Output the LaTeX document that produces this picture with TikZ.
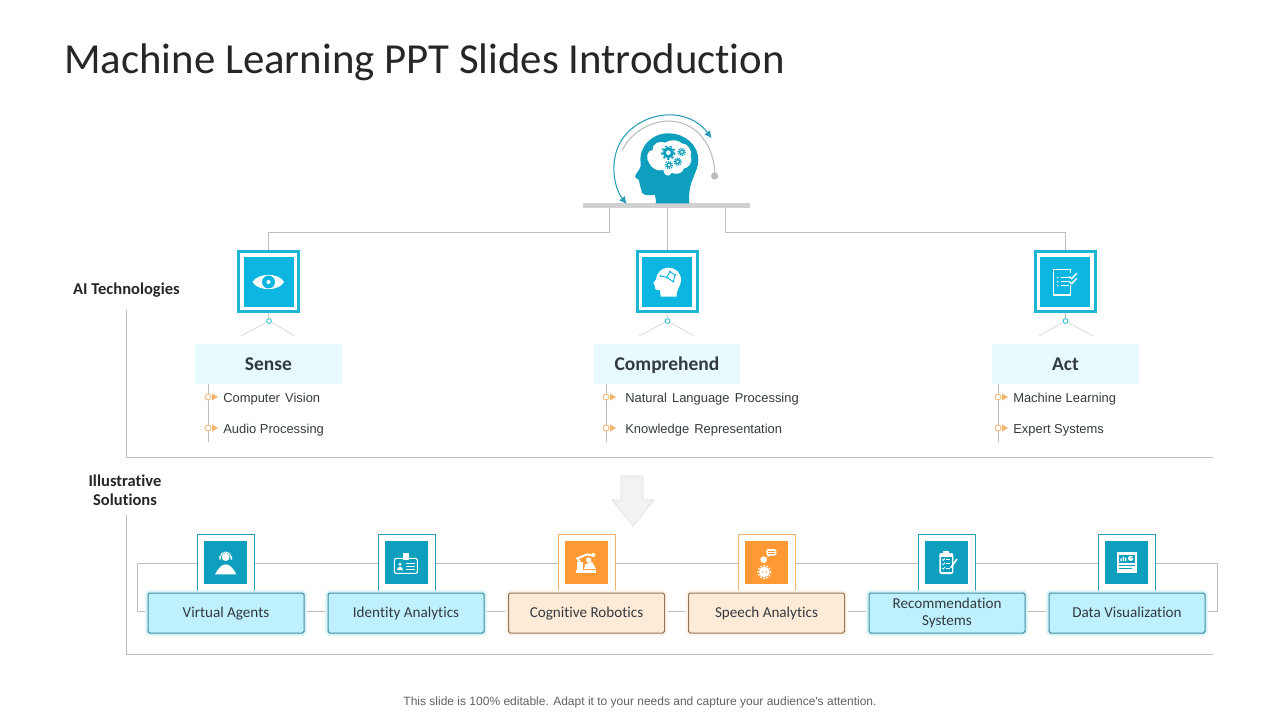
\documentclass[tikz,border=0pt]{standalone}
\usepackage{fontspec}
\setmainfont[Ligatures=NoCommon]{Carlito}
\newfontfamily\lib{Liberation Sans}
\usetikzlibrary{arrows.meta}
\definecolor{tealA}{HTML}{0E9FBF}
\definecolor{tealB}{HTML}{0CB6E0}
\definecolor{tealF}{HTML}{2A9DB8}
\definecolor{tealL}{HTML}{1CB6D4}
\definecolor{orangeA}{HTML}{FF9933}
\definecolor{orangeF}{HTML}{F2B36B}
\definecolor{lineG}{HTML}{BDBDBD}
\definecolor{ink}{HTML}{333A3F}
\definecolor{headFill}{HTML}{E8FAFE}
\definecolor{lblFill}{HTML}{BEF1FD}
\definecolor{lblLine}{HTML}{3F8C9F}
\definecolor{lblHalo}{HTML}{D8F3F8}
\definecolor{oFill}{HTML}{FDEBD8}
\definecolor{oLine}{HTML}{94755A}
\definecolor{oHalo}{HTML}{FDF3E8}
\tikzset{
  zm/.style 2 args={shift={(#1,#2)},x=.25pt,y=-.25pt},
  conn/.style={draw=lineG,line width=.75pt},
  outerbox/.style={draw=tealL,line width=2.25pt,fill=white,minimum size=45pt,inner sep=0pt},
  innerbox/.style={fill=tealB,minimum size=37.5pt,inner sep=0pt},
  head/.style={fill=#1,minimum width=110pt,minimum height=30pt,inner sep=0pt,text height=9.4pt,text depth=0pt,font=\fontsize{14.6pt}{15pt}\selectfont\bfseries,text=ink},
  listtxt/.style={anchor=west,inner sep=0pt,text height=7pt,text depth=0pt,font=\lib\fontsize{9.7pt}{12pt}\selectfont,text=ink},
  bul/.style={circle,draw=orangeF,fill=white,line width=.6pt,minimum size=4.5pt,inner sep=0pt},
  tri/.style={fill=orangeF},
  lead/.style={draw=black!15,line width=.6pt},
  dot/.style={circle,draw=tealL,fill=white,line width=.6pt,minimum size=3.6pt,inner sep=0pt},
  frameT/.style={draw=tealF,line width=.75pt,fill=white,minimum width=42.75pt,minimum height=44.25pt,inner sep=0pt},
  frameO/.style={draw=orangeF,line width=.75pt,fill=white,minimum width=42.75pt,minimum height=44.25pt,inner sep=0pt},
  sqT/.style={fill=tealA,minimum size=32.25pt,inner sep=0pt},
  sqO/.style={fill=orangeA,minimum size=32.25pt,inner sep=0pt},
  lblbase/.style={rounded corners=1.2pt,line width=.75pt,minimum width=117pt,minimum height=30pt,inner sep=0pt,align=center,text=ink,font=\fontsize{11.35pt}{12.7pt}\selectfont},
  lblT/.style={lblbase,draw=lblLine,fill=lblFill,preaction={draw=lblHalo,line width=4pt}},
  lblO/.style={lblbase,draw=oLine,fill=oFill,preaction={draw=oHalo,line width=4pt}},
  one/.style={text height=7.2pt,text depth=0pt},
  side/.style={align=center,inner sep=0pt,font=\fontsize{12.4pt}{14.4pt}\selectfont\bfseries,text=black!85},
}
\newcommand{\gearshape}[6]{% x y r hole colour dash
  \fill[#5] (#1,#2) circle (#3);
  \draw[#5,line width=1.1pt,dash pattern=on #6 off #6] (#1,#2) circle ({#3+2.5});
  \fill[white] (#1,#2) circle (#4);
}
\newcommand{\lsp}{\hspace{.12em}}
\begin{document}
\begin{tikzpicture}[x=.75pt,y=-.75pt]
\useasboundingbox (0,0) rectangle (1280,720);
\node[anchor=west,inner sep=0pt,text=black!85,font=\fontsize{32.1pt}{38pt}\selectfont] (title) at (64,62) {Machine Learning PPT Slides Introduction};

\node[fill=black!18,minimum width=125.25pt,minimum height=3.75pt,inner sep=0pt] (bar) at (666.5,205.5) {};
% head
\begin{scope}[zm={570}{100}]
  \fill[tealA] (258,310) .. controls (258,298) and (256,290) .. (254,284) .. controls (240,286) and (222,288) .. (216,278)
    .. controls (212,270) and (214,262) .. (210,256) .. controls (206,250) and (210,246) .. (207,240) .. controls (200,236) and (192,232) .. (197,224)
    .. controls (204,212) and (214,205) .. (212,190) .. controls (205,140) and (245,100) .. (295,100)
    .. controls (345,100) and (385,135) .. (385,180) .. controls (385,220) and (352,240) .. (358,310) -- cycle;
  \fill[white] (238,190) .. controls (225,175) and (232,150) .. (248,150) .. controls (245,132) and (270,120) .. (285,128)
    .. controls (300,118) and (325,118) .. (335,130) .. controls (352,130) and (368,150) .. (362,170)
    .. controls (370,190) and (352,205) .. (342,205) .. controls (338,222) and (315,225) .. (305,218)
    .. controls (298,235) and (280,225) .. (280,210) .. controls (262,215) and (245,205) .. (238,190) -- cycle;
  \gearshape{295}{158}{17}{7}{tealA}{1.7pt}
  \gearshape{335}{156}{8}{4}{tealA}{.8pt}
  \gearshape{323}{185}{8}{4}{tealA}{.8pt}
  \gearshape{297}{195}{8}{4}{tealA}{.8pt}
  \coordinate (arcA) at (170,312);
  \coordinate (arcB) at (425,115);
  \coordinate (arcC) at (157,150);
  \coordinate (arcD) at (434,228);
  \draw[tealF,line width=.8pt,{Latex[length=5.5pt,width=5.5pt]}-{Latex[length=5.5pt,width=5.5pt]}] (arcA) .. controls (130,262) and (115,170) .. (162,110) .. controls (225,30) and (355,20) .. (arcB);
  \draw[lineG,line width=.8pt] (arcC) .. controls (195,75) and (290,40) .. (360,80) .. controls (410,110) and (436,170) .. (arcD);
  \fill[lineG] (arcD) circle (11);
\end{scope}

% three columns
\node[outerbox] (o1) at (268.5,281.5) {};
\node[innerbox] (i1) at (269,282) {};
\node[outerbox] (o2) at (667,281.5) {};
\node[innerbox] (i2) at (667,282) {};
\node[outerbox] (o3) at (1065.5,281.5) {};
\node[innerbox] (i3) at (1065,282) {};

\draw[conn] ([xshift=-42.4pt]bar.south) -- ++(0,24.5) -| (o1.north);
\draw[conn] (bar.south -| o2.north) -- (o2.north);
\draw[conn] ([xshift=43.9pt]bar.south) -- ++(0,24.5) -| (o3.north);

% eye
\fill[white] (252.5,282) .. controls (258,272.5) and (279,272.5) .. (284,282) .. controls (279,291.5) and (258,291.5) .. (252.5,282) -- cycle;
\fill[tealB] (268.5,282) circle (6.5);
\fill[white] (268.5,282) circle (2);
% comprehend icon
\begin{scope}[zm={620}{240}]
  \fill[white] (122,170) -- (120,150) .. controls (108,152) and (104,148) .. (105,138) -- (100,130) -- (108,118) .. controls (110,98) and (125,83) .. (145,83)
    .. controls (168,83) and (184,100) .. (183,122) .. controls (182,140) and (168,148) .. (170,170) -- cycle;
  \draw[tealB,line width=.7pt] (122,108) -- (140,112) -- (150,95) -- (165,105) -- (160,125) -- (140,112);
  \foreach \p in {(122,108),(140,112),(150,95),(165,105),(160,125)} \fill[tealB] \p circle (3);
\end{scope}
% act icon
\begin{scope}[zm={1020}{240}]
  \draw[white,line width=1pt] (152,100) -- (152,88) -- (100,88) -- (100,165) -- (152,165) -- (152,135);
  \foreach \yy in {113,125,137} {
    \fill[white] (113,\yy) circle (2.5);
    \draw[white,line width=.9pt] (122,\yy) -- (146,\yy);
  }
  \draw[white,line width=1.1pt] (148,110) -- (155,116) -- (170,100);
  \draw[white,line width=1.1pt] (148,125) -- (155,131) -- (170,115);
\end{scope}

% leads
\node[dot] (d1) at (269,321) {};
\node[dot] (d2) at (667.5,321) {};
\node[dot] (d3) at (1065.5,321) {};
\draw[conn,line width=.5pt] (o1.south) -- (d1);
\draw[conn,line width=.5pt] (o2.south) -- (d2);
\draw[conn,line width=.5pt] (o3.south) -- (d3);
\coordinate (l1a) at (241,336); \coordinate (l1b) at (295,336);
\coordinate (l2a) at (639,336); \coordinate (l2b) at (694,336);
\coordinate (l3a) at (1039,336); \coordinate (l3b) at (1093,336);
\draw[lead] (l1a) -- (d1) -- (l1b);
\draw[lead] (l2a) -- (d2) -- (l2b);
\draw[lead] (l3a) -- (d3) -- (l3b);

\node[head=headFill] (h1) at (268.5,364) {Sense};
\node[head=headFill] (h2) at (667,364) {Comprehend};
\node[head=headFill] (h3) at (1065.5,364) {Act};

% lists
\coordinate (v1) at (208,442); \coordinate (v2) at (606,442); \coordinate (v3) at (998,442);
\draw[conn] (v1 |- h1.south) -- (v1);
\draw[conn] (v2 |- h2.south) -- (v2);
\draw[conn] (v3 |- h3.south) -- (v3);
\foreach \xx/\nm in {208/a,606/b,998/c} {
  \node[bul] (b\nm1) at (\xx,397) {};
  \node[bul] (b\nm2) at (\xx,428) {};
  \foreach \yy in {397,428}
    \fill[tri] ({\xx+4},{\yy-3.5}) -- ({\xx+10},\yy) -- ({\xx+4},{\yy+3.5}) -- cycle;
}
\node[listtxt] (t11) at (223,397.5) {Computer\lsp{} Vision};
\node[listtxt] (t12) at (223,428.5) {Audio Processing};
\node[listtxt] (t21) at (625,397.5) {Natural\lsp{} Language\lsp{} Processing};
\node[listtxt] (t22) at (625,428.5) {Knowledge\lsp{} Representation};
\node[listtxt] (t31) at (1013,397.5) {Machine Learning};
\node[listtxt] (t32) at (1013,428.5) {Expert Systems};

% side labels and frames
\node[side] (ai) at (126.5,290) {AI Technologies};
\node[side] (il) at (125,490) {Illustrative\\Solutions};
\coordinate (f1a) at (126,310); \coordinate (f1b) at (126,457); \coordinate (f1c) at (1213,457);
\coordinate (f2a) at (126,515); \coordinate (f2b) at (126,654); \coordinate (f2c) at (1213,654);
\draw[conn] (f1a) -- (f1b) -- (f1c);
\draw[conn] (f2a) -- (f2b) -- (f2c);

% down arrow
\fill[black!5] (621,476) -- (643,476) -- (643,500) -- (654,500) -- (633,526) -- (612,500) -- (621,500) -- cycle;
\draw[black!12,line width=.5pt] (621,476) -- (643,476) -- (643,500) -- (654,500) -- (633,526) -- (612,500) -- (621,500) -- cycle;

% bottom row frames
\node[frameT] (f1) at (226,563.5) {};
\node[frameT] (f2) at (406.5,563.5) {};
\node[frameO] (f3) at (586.5,563.5) {};
\node[frameO] (f4) at (766.5,563.5) {};
\node[frameT] (f5) at (946.5,563.5) {};
\node[frameT,minimum height=43pt] (f6) at (1127,563) {};
\node[sqT] (s1) at (225.5,562.5) {};
\node[sqT] (s2) at (406,562.5) {};
\node[sqO] (s3) at (586,562.5) {};
\node[sqO] (s4) at (766,562.5) {};
\node[sqT] (s5) at (946,562.5) {};
\node[sqT] (s6) at (1126.5,562.5) {};

\node[lblT,one] (b1) at (226,613) {Virtual Agents};
\node[lblT,one] (b2) at (406,613) {Identity Analytics};
\node[lblO,one] (b3) at (586.5,613) {Cognitive Robotics};
\node[lblO,one] (b4) at (766.5,613) {Speech Analytics};
\node[lblT] (b5) at (947,613) {\raisebox{-1pt}{Recommendation}\\\raisebox{-1pt}{Systems}};
\node[lblT,one] (b6) at (1127,613) {Data Visualization};

\draw[conn] (f1.east) -- (f2.west);
\draw[conn] (f2.east) -- (f3.west);
\draw[conn] (f3.east) -- (f4.west);
\draw[conn] (f4.east) -- (f5.west);
\draw[conn] (f5.east) -- (f5.east -| f6.west);
\foreach \a/\b in {b1/b2,b2/b3,b3/b4,b4/b5,b5/b6}
  \draw[conn] ([yshift=1.5pt,xshift=2pt]\a.east) -- ([yshift=1.5pt,xshift=-2pt]\b.west);
\coordinate (loopL) at (137,563.5);
\coordinate (loopR) at (1217,563.5);
\draw[conn] (f1.west) -- (loopL) |- ([yshift=1.5pt,xshift=-2pt]b1.west);
\draw[conn] (f5.east -| f6.east) -- (loopR) |- ([yshift=1.5pt,xshift=2pt]b6.east);

% agent icon
\begin{scope}[zm={120}{525}]
  \fill[white] (285,148) .. controls (295,130) and (305,118) .. (317,118) .. controls (329,118) and (340,130) .. (349,148) -- cycle;
  \fill[white] (317,96) circle (12);
  \draw[white,line width=.7pt] (300,98) arc (180:360:17);
  \fill[white] (298,93) rectangle (302,104) (332,93) rectangle (336,104);
\end{scope}
% id card icon
\begin{scope}[zm={120}{525}]
  \draw[white,line width=.8pt,rounded corners=1pt] (823,100) rectangle (892,145);
  \fill[white] (848,85) rectangle (866,105);
  \fill[white] (840,118) circle (5);
  \fill[white] (831,135) .. controls (833,122) and (847,122) .. (849,135) -- cycle;
  \draw[white,line width=.6pt] (858,116) -- (885,116) (858,125) -- (885,125) (858,134) -- (885,134);
\end{scope}
% robot icon
\begin{scope}[zm={500}{525}]
  \fill[white] (228,143) rectangle (288,136);
  \fill[white] (232,136) rectangle (248,112);
  \fill[white] (252,132) -- (256,118) -- (276,110) -- (288,132) -- cycle;
  \fill[white] (266,105) circle (8);
  \draw[white,line width=1.5pt] (240,112) -- (232,100) -- (262,88) -- (280,92);
  \fill[white] (280,90) circle (6);
\end{scope}
% speech icon
\begin{scope}[zm={500}{525}]
  \fill[white,rounded corners=1.5pt] (799,72) rectangle (829,92);
  \fill[white] (803,90) -- (812,90) -- (803,98) -- cycle;
  \draw[orangeA,line width=.4pt] (804,79) -- (824,79) (804,85) -- (824,85);
  \fill[white] (791,104) circle (10);
  \fill[white] (793,141) circle (16);
  \draw[white,line width=1pt,dash pattern=on 1.2pt off 1.2pt] (793,141) circle (19);
  \fill[orangeA] (787,141) circle (2.5) (799,141) circle (2.5);
\end{scope}
% clipboard icon
\begin{scope}[zm={860}{525}]
  \fill[white,rounded corners=1.5pt] (238,84) rectangle (280,147);
  \fill[tealA] (243,95) rectangle (275,141);
  \fill[white] (250,78) rectangle (268,91);
  \foreach \yy in {103,116,129} {
    \draw[white,line width=.6pt] (247,\yy) -- (250,{\yy+3}) -- (255,{\yy-3});
    \draw[white,line width=.6pt] (258,\yy) -- (271,\yy);
  }
  \draw[white,line width=1.2pt] (272,128) -- (291,102);
\end{scope}
% chart icon
\begin{scope}[zm={860}{525}]
  \fill[white] (770,82) rectangle (832,143);
  \fill[tealA] (777,89) rectangle (826,113);
  \fill[white] (781,108) rectangle (785,100) (788,108) rectangle (792,95) (795,108) rectangle (799,98);
  \fill[white] (812,100) circle (8);
  \draw[tealA,line width=.5pt] (812,100) -- (820,96);
  \draw[tealA,line width=.7pt] (778,122) -- (825,122) (778,131) -- (815,131);
\end{scope}

\node[inner sep=0pt,text=black!62,font=\lib\fontsize{9pt}{11pt}\selectfont] (foot) at (640,702) {This slide is 100\% editable. Adapt it to your needs and capture your audience's attention.};
\end{tikzpicture}
\end{document}
